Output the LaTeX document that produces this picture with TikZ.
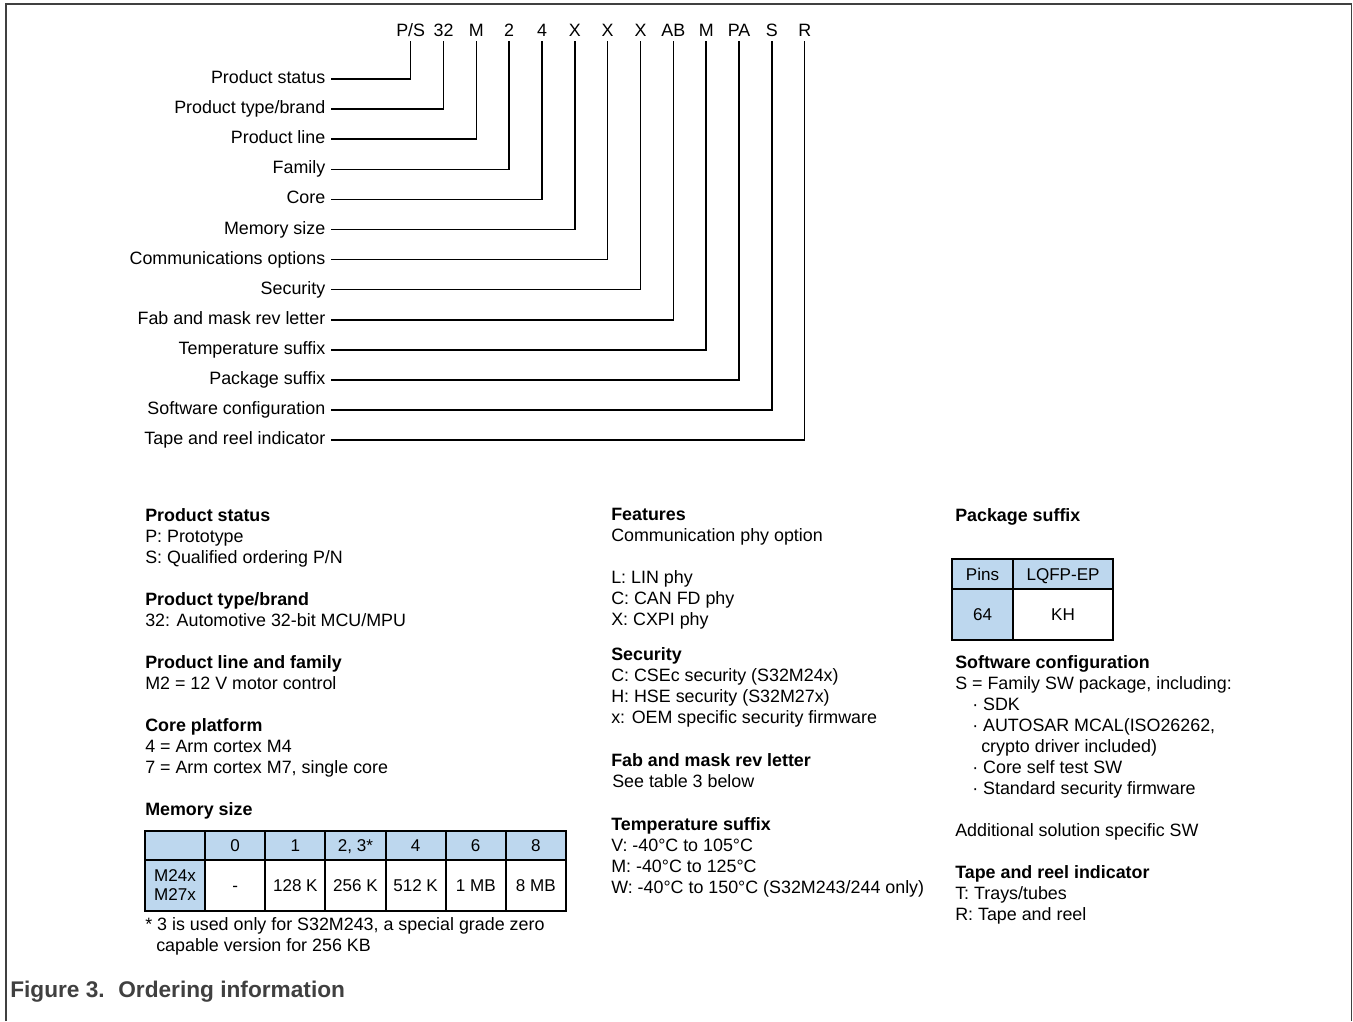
\documentclass[tikz,border=0pt]{standalone}
\usepackage{fontspec}
\setmainfont{Liberation Sans}
\usepackage{tikz}
\usetikzlibrary{positioning}
\definecolor{cellblue}{RGB}{189,215,238}
\definecolor{framegray}{RGB}{64,64,64}

\begin{document}
\begin{tikzpicture}[x=0.75pt,y=-0.75pt,
	code/.style={anchor=base, inner sep=0pt, text depth=0pt, outer ysep=3.5pt, font=\fontsize{13.4}{16}\selectfont},
	field/.style={anchor=base east, inner sep=0pt, outer xsep=4.3pt, text height=9.6pt, text depth=2.8pt, font=\fontsize{13.4}{16}\selectfont},
	lead/.style={draw, line width=1.1pt},
	txt/.style={anchor=north west, yshift=10pt, inner sep=0pt, align=left, font=\fontsize{13.4}{15.75}\selectfont, execute at begin node={\rule{0pt}{10pt}}},
	cell/.style={draw, line width=1.5pt, inner sep=0pt, outer sep=0pt, minimum width=45.1pt, minimum height=38pt, align=center, font=\fontsize{12.8}{14.2}\selectfont},
	val/.style={cell, text height=9.4pt, text depth=0pt},
	head/.style={val, minimum height=22pt, fill=cellblue}]
		\useasboundingbox (0,0) rectangle (1353,1021);
		\draw[framegray, line width=1.5pt] (6.3,1021) -- (6.3,4.3) -- (1351.5,4.3);
		\draw[framegray, line width=0.8pt] (1351.5,4.3) -- (1351.5,1021);

		\node[code] (cPS) at (410.7,36) {P/S};
		\node[code] (c32) at (443.5,36) {32};
		\node[code] (cM) at (476.3,36) {M};
		\node[code] (c2) at (509.2,36) {2};
		\node[code] (c4) at (542,36) {4};
		\node[code] (cX1) at (574.8,36) {X};
		\node[code] (cX2) at (607.7,36) {X};
		\node[code] (cX3) at (640.5,36) {X};
		\node[code] (cAB) at (673.3,36) {AB};
		\node[code] (cM2) at (706.2,36) {M};
		\node[code] (cPA) at (739,36) {PA};
		\node[code] (cS) at (771.9,36) {S};
		\node[code] (cR) at (804.7,36) {R};

		\node[field] (fPS) at (331,83.5) {Product status};
		\node[field] (fType) at (331,113.6) {Product type/brand};
		\node[field] (fLine) at (331,143.7) {Product line};
		\node[field] (fFam) at (331,173.8) {Family};
		\node[field] (fCore) at (331,203.9) {Core};
		\node[field] (fMem) at (331,234) {Memory size};
		\node[field] (fComm) at (331,264.1) {Communications options};
		\node[field] (fSec) at (331,294.2) {Security};
		\node[field] (fFab) at (331,324.3) {Fab and mask rev letter};
		\node[field] (fTemp) at (331,354.4) {Temperature suffix};
		\node[field] (fPkg) at (331,384.5) {Package suffix};
		\node[field] (fSW) at (331,414.6) {Software configuration};
		\node[field] (fTR) at (331,444.7) {Tape and reel indicator};

		\draw[lead] (fPS.east) -| (cPS.south);
		\draw[lead] (fType.east) -| (c32.south);
		\draw[lead] (fLine.east) -| (cM.south);
		\draw[lead] (fFam.east) -| (c2.south);
		\draw[lead] (fCore.east) -| (c4.south);
		\draw[lead] (fMem.east) -| (cX1.south);
		\draw[lead] (fComm.east) -| (cX2.south);
		\draw[lead] (fSec.east) -| (cX3.south);
		\draw[lead] (fFab.east) -| (cAB.south);
		\draw[lead] (fTemp.east) -| (cM2.south);
		\draw[lead] (fPkg.east) -| (cPA.south);
		\draw[lead] (fSW.east) -| (cS.south);
		\draw[lead] (fTR.east) -| (cR.south);

		\node[txt] (tStatus) at (145,521.5) {\textbf{Product status}\\P: Prototype\\S: Qualified ordering P/N};
		\node[txt] (tType) at (145,605.5) {\textbf{Product type/brand}\\32: Automotive 32-bit MCU/MPU};
		\node[txt] (tLine) at (145,668.5) {\textbf{Product line and family}\\M2 = 12 V motor control};
		\node[txt] (tCore) at (145,731.5) {\textbf{Core platform}\\4 = Arm cortex M4\\7 = Arm cortex M7, single core};
		\node[txt] (tMem) at (145,815.5) {\textbf{Memory size}};

		\node[head, anchor=north west] (m0) at (145,830.7) {};
		\node[head, right=0pt of m0] (m1) {0};
		\node[head, right=0pt of m1] (m2) {1};
		\node[head, right=0pt of m2] (m3) {2, 3*};
		\node[head, right=0pt of m3] (m4) {4};
		\node[head, right=0pt of m4] (m5) {6};
		\node[head, right=0pt of m5] (m6) {8};
		\node[cell, fill=cellblue, below=0pt of m0] (n0) {M24x\\M27x};
		\node[val, below=0pt of m1] (n1) {-};
		\node[val, below=0pt of m2] (n2) {128 K};
		\node[val, below=0pt of m3] (n3) {256 K};
		\node[val, below=0pt of m4] (n4) {512 K};
		\node[val, below=0pt of m5] (n5) {1 MB};
		\node[val, below=0pt of m6] (n6) {8 MB};
		\node[txt] (tNote) at (145,930.5) {* 3 is used only for S32M243, a special grade zero\\\hspace*{8.25pt}capable version for 256 KB};

		\node[txt] (tFeat) at (611,521.5) {\textbf{Features}\\Communication phy option\\[15.75pt]L: LIN phy\\C: CAN FD phy\\X: CXPI phy};
		\node[txt] (tSec) at (611,660.5) {\textbf{Security}\\C: CSEc security (S32M24x)\\H: HSE security (S32M27x)\\x: OEM specific security firmware};
		\node[txt] (tFab) at (611,766.5) {\textbf{Fab and mask rev letter}\\\hspace*{0.75pt}See table 3 below};
		\node[txt] (tTemp) at (611,830.5) {\textbf{Temperature suffix}\\V: -40°C to 105°C\\M: -40°C to 125°C\\W: -40°C to 150°C (S32M243/244 only)};

		\node[txt] (tPkg) at (955,521.5) {\textbf{Package suffix}};
		\node[head, minimum width=45.3pt, minimum height=22.5pt, anchor=north west] (p0) at (952.3,559.3) {Pins};
		\node[head, minimum width=75.5pt, minimum height=22.5pt, right=0pt of p0] (p1) {LQFP-EP};
		\node[val, fill=cellblue, minimum width=45.3pt, below=0pt of p0] (q0) {64};
		\node[val, minimum width=75.5pt, below=0pt of p1] (q1) {KH};

		\node[txt] (tSW) at (955,668.5) {\textbf{Software configuration}\\S = Family SW package, including:\\\hspace*{12.75pt}· SDK\\\hspace*{12.75pt}· AUTOSAR MCAL(ISO26262,\\\hspace*{19.5pt}crypto driver included)\\\hspace*{12.75pt}· Core self test SW\\\hspace*{12.75pt}· Standard security firmware\\[15.75pt]Additional solution specific SW};
		\node[txt] (tTR) at (955,878.5) {\textbf{Tape and reel indicator}\\T: Trays/tubes\\R: Tape and reel};

		\node[anchor=base west, inner sep=0pt, text=framegray, font=\fontsize{17}{20}\selectfont\bfseries] (cap) at (10,997) {Figure 3.\hspace{0.6em}Ordering information};
\end{tikzpicture}
\end{document}
